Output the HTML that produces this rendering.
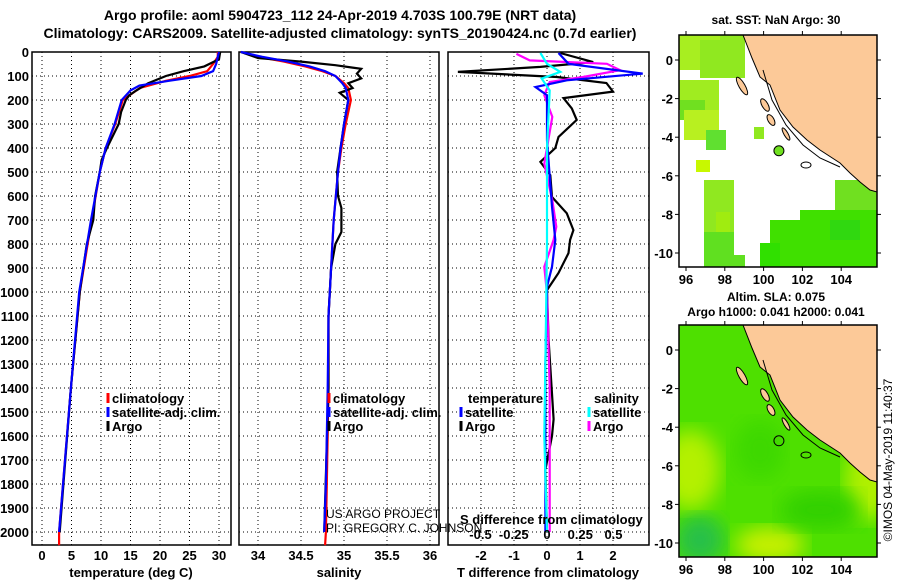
<!DOCTYPE html>
<html><head><meta charset="utf-8">
<style>
body{margin:0;background:#fff;}
svg{display:block;font-family:"Liberation Sans",sans-serif;}
.b{font-weight:bold;font-size:13px;}
</style></head>
<body>
<svg id="c" width="900" height="580" viewBox="0 0 900 580" xmlns="http://www.w3.org/2000/svg">
<text x="340" y="20" text-anchor="middle" class="b" style="font-size:14px">Argo profile: aoml 5904723_112 24-Apr-2019 4.703S 100.79E (NRT data)</text>
<text x="340" y="38" text-anchor="middle" class="b" style="font-size:14px">Climatology: CARS2009. Satellite-adjusted climatology: synTS_20190424.nc (0.7d earlier)</text>
<g id="p1"></g>
<g id="p2"></g>
<g id="p3"></g>
<g id="m1"></g>
<g id="m2"></g>
<text transform="translate(892,460) rotate(-90)" text-anchor="middle" style="font-size:12px">©IMOS 04-May-2019 11:40:37</text>
</svg>
<script>
// ---- data ----
const depthTicks=[0,100,200,300,400,500,600,700,800,900,1000,1100,1200,1300,1400,1500,1600,1700,1800,1900,2000];
const tempTicks=[0,5,10,15,20,25,30];
const salTicks=[34,34.5,35,35.5,36];
const tdiffTicks=[-2,-1,0,1,2];
const sdiffTicks=[-0.5,-0.25,0,0.25,0.5];
const tClimD=[0,20,50,80,100,120,150,200,300,400,500,700,1000,1400,2000,2055];
const tClimV=[29.8,29.8,29,28,25,21,16.6,13.7,12.4,10.8,9.8,8.4,6.4,4.9,2.9,2.9];
const tArgoD=[0,30,60,80,100,130,160,180,200,250,300,350,400,450,500,600,700,800,900,1000,1400,2000];
const tArgoV=[30.2,30,27.5,24,21,18,16,14.8,14.2,13.4,13,12,11,10.1,9.8,9,8.7,7.6,7,6.4,4.9,3];
const tSatD=[0,50,80,100,120,140,160,200,300,400,500,700,1000,1400,2000];
const tSatV=[30,29.5,29,27,21.5,16.5,15,13.5,12.3,10.8,9.8,8.3,6.3,4.9,2.9];
const sClimD=[0,20,40,60,80,100,130,150,200,300,400,500,700,900,1100,1400,1800,2000,2055];
const sClimV=[33.8,34.0,34.3,34.55,34.75,34.9,35.0,35.05,35.08,35.02,34.97,34.93,34.88,34.85,34.82,34.82,34.8,34.79,34.78];
const sArgoD=[0,25,40,55,65,70,90,110,130,150,170,200,300,500,600,650,750,800,900,1100,1400,2000];
const sArgoV=[33.8,34.0,34.5,34.9,35.1,35.2,35.15,35.2,35.05,35.1,34.95,35.05,35.0,34.92,34.93,34.97,34.97,34.9,34.85,34.82,34.82,34.77];
const sSatD=[0,20,40,60,80,100,130,150,200,300,400,500,700,900,1100,1400,1800,2000];
const sSatV=[33.8,34.05,34.35,34.6,34.78,34.9,34.98,35.02,35.05,35.0,34.96,34.93,34.88,34.85,34.82,34.81,34.79,34.77];
const dTArgoD=[4,42,62,83,104,129,165,192,235,283,354,400,458,513,604,672,742,783,838,921,992,1200,1530,1600,1740,2000];
const dTArgoV=[0.4,1.4,-0.2,-2.7,0.3,1.8,2.0,0.5,0.75,0.9,0.35,0.25,-0.2,0.1,0.15,0.6,0.8,0.7,0.65,0.35,0,0.05,0.2,0.15,-0.05,0];
const dTSatD=[4,49,90,118,146,180,368,645,783,895,978,1300,1600,2000];
const dTSatV=[0.35,0.65,2.9,0.6,-0.35,0,0,0.15,0.25,0.15,0,-0.05,-0.05,-0.05];
const dSArgoD=[8,35,49,76,104,125,180,270,465,617,728,783,895,1006,1400,2000];
const dSArgoV=[-0.23,-0.13,0.45,0.55,0.27,0.02,-0.02,0.04,-0.02,0.04,0.07,0.05,-0.02,0,0.02,0.02];
const dSSatD=[4,49,83,111,160,400,800,1200,1600,2000];
const dSSatV=[-0.05,0,0.1,-0.04,0.02,0,0,-0.01,-0.02,0];
const lonTicks=[96,98,100,102,104];
const latTicks=[0,-2,-4,-6,-8,-10];
const argoLon=100.79, argoLat=-4.703;

// ---- helpers ----
const NS='http://www.w3.org/2000/svg';
function mk(parent,tag,attrs,txt){const e=document.createElementNS(NS,tag);for(const k in attrs)e.setAttribute(k,attrs[k]);if(txt!==undefined)e.textContent=txt;parent.appendChild(e);return e;}
const topY=52,botY=545;
const yD=d=>topY+d*0.24;
function panel(g,x0,x1,xs,xt,xlabels,showY){
  const r=mk(g,'rect',{x:x0,y:topY,width:x1-x0,height:botY-topY,fill:'none',stroke:'#000','stroke-width':1.5});
  
  
  depthTicks.forEach(d=>{
    const l=mk(g,'line',{x1:x0,x2:x1,y1:yD(d),y2:yD(d),stroke:'#000','stroke-dasharray':'1,3'});
    
    
    if(showY){const t=mk(g,'text',{x:x0-3,y:yD(d)+5,'text-anchor':'end',class:'b'},d);
      
      }
  });
  xt.forEach(v=>{
    const l=mk(g,'line',{x1:xs(v),x2:xs(v),y1:topY,y2:botY,stroke:'#000','stroke-dasharray':'1,3'});
    
    
    if(xlabels){const t=mk(g,'text',{x:xs(v),y:560,'text-anchor':'middle',class:'b'},v);
      
      }
  });
}
function line(g,xs,D,V,col,name){
  const p=D.map((d,i)=>xs(V[i]).toFixed(1)+','+yD(d).toFixed(1)).join(' ');
  const e=mk(g,'polyline',{points:p,fill:'none',stroke:col,'stroke-width':2.2});
  
  
}
function leg(g,x,y,col,label){
  const l=mk(g,'line',{x1:x,x2:x,y1:y-10,y2:y,stroke:col,'stroke-width':3});
  
  
  const t=mk(g,'text',{x:x+4,y:y,class:'b'},label);
  
  
}

// ---- panel 1 temperature ----
const g1=document.getElementById('p1');
const xT=v=>42+v*5.9;
panel(g1,32,231,xT,tempTicks,true,true);
line(g1,xT,tClimD,tClimV,'#f00','temp-climatology-line');
line(g1,xT,tArgoD,tArgoV,'#000','temp-argo-line');
line(g1,xT,tSatD,tSatV,'#00f','temp-satellite-line');
leg(g1,108,403,'#f00','climatology');
leg(g1,108,417,'#00f','satellite-adj. clim.');
leg(g1,108,431,'#000','Argo');
(function(){const t=mk(g1,'text',{x:131,y:577,'text-anchor':'middle',class:'b'},'temperature (deg C)');

})();

// ---- panel 2 salinity ----
const g2=document.getElementById('p2');
const xS=v=>258+(v-34)*86;
panel(g2,239,439,xS,salTicks,true,false);
line(g2,xS,sClimD,sClimV,'#f00','sal-climatology-line');
line(g2,xS,sArgoD,sArgoV,'#000','sal-argo-line');
line(g2,xS,sSatD,sSatV,'#00f','sal-satellite-line');
leg(g2,329,403,'#f00','climatology');
leg(g2,329,417,'#00f','satellite-adj. clim.');
leg(g2,329,431,'#000','Argo');
(function(){
const t=mk(g2,'text',{x:339,y:577,'text-anchor':'middle',class:'b'},'salinity');


const a=mk(g2,'text',{x:326,y:518,style:'font-size:12px'},'US ARGO PROJECT');


const b=mk(g2,'text',{x:326,y:532,style:'font-size:12px'},'PI: GREGORY C. JOHNSON');


})();

// ---- panel 3 differences ----
const g3=document.getElementById('p3');
const xDT=v=>547+v*33;
const xDS=v=>547+v*133;
panel(g3,448,649,xDT,tdiffTicks,true,false);
line(g3,xDT,dTArgoD,dTArgoV,'#000','tdiff-argo-line');
line(g3,xDS,dSArgoD,dSArgoV,'#f0f','sdiff-argo-line');
line(g3,xDT,dTSatD,dTSatV,'#00f','tdiff-satellite-line');
line(g3,xDS,dSSatD,dSSatV,'#0ff','sdiff-satellite-line');
(function(){
const t=mk(g3,'text',{x:468,y:403,class:'b'},'temperature');


const s=mk(g3,'text',{x:594,y:403,class:'b'},'salinity');


})();
leg(g3,461,417,'#00f','satellite');
leg(g3,461,431,'#000','Argo');
leg(g3,589,417,'#0ff','satellite');
leg(g3,589,431,'#f0f','Argo');
(function(){
const t=mk(g3,'text',{x:460,y:524,class:'b'},'S difference from climatology');


sdiffTicks.forEach(v=>{const e=mk(g3,'text',{x:xDS(v),y:539,'text-anchor':'middle',class:'b'},v);

});
const x=mk(g3,'text',{x:548,y:577,'text-anchor':'middle',class:'b'},'T difference from climatology');


})();

// ---- maps ----
function drawMap(g,yOff,kind){
  const X=lon=>686+(lon-96)*19.4, Y=lat=>60+yOff-lat*19.3;
  const x0=679,x1=877,y0=35+yOff,y1=267+yOff;
  const cp=mk(g,'clipPath',{id:'cl'+kind});mk(cp,'rect',{x:x0,y:y0,width:x1-x0,height:y1-y0});
  const inner=mk(g,'g',{'clip-path':'url(#cl'+kind+')'});
  if(kind==='sla'){
    mk(inner,'rect',{x:x0,y:y0,width:x1-x0,height:y1-y0,fill:'#4ee000'});
    const f=mk(g,'filter',{id:'bl'});mk(f,'feGaussianBlur',{stdDeviation:10});
    const blobs=[[690,470,30,40,'#b4f000'],[770,545,35,18,'#c8f000'],[700,540,25,25,'#28c048'],[870,480,25,40,'#b0f000'],[760,450,25,30,'#3cd800'],[820,510,40,20,'#30d000']];
    blobs.forEach(b=>{const e=mk(inner,'ellipse',{cx:b[0],cy:b[1],rx:b[2],ry:b[3],fill:b[4],filter:'url(#bl)'});
      
      });
  } else {
    mk(inner,'rect',{x:x0,y:y0,width:x1-x0,height:y1-y0,fill:'#fff'});
    const sq=[[679,35,50,35,'#a8ee20'],[700,40,45,38,'#90e820'],[720,35,25,40,'#90e820'],[679,80,40,30,'#a0ec20'],[680,100,25,20,'#70e020'],[684,110,35,30,'#b8f020'],[706,130,20,20,'#60e030'],[696,160,14,12,'#c8f800'],[754,127,10,12,'#90e820'],[704,180,30,55,'#90e820'],[716,212,14,40,'#a0ec10'],[704,232,30,35,'#60e020'],[715,255,30,12,'#60e020'],[770,220,35,47,'#40e000'],[800,210,77,57,'#40e000'],[835,180,42,30,'#70e020'],[830,220,30,20,'#30d810'],[868,115,9,12,'#e0e000'],[760,243,20,24,'#30e000']];
    sq.forEach(s=>{const e=mk(inner,'rect',{x:s[0],y:s[1],width:s[2],height:s[3],fill:s[4]});
      
      });
  }
  const land=[[743,35],[752,58],[760,77],[770,85],[780,110],[793,127],[807,140],[820,150],[840,163],[850,173],[860,182],[870,190],[877,192],[877,35]];
  const lp=mk(inner,'polygon',{points:land.map(p=>p[0]+','+(p[1]+yOff)).join(' '),fill:'#fcc998',stroke:'#000','stroke-width':1});
  
  
  const isl=[[742,86,3,10],[765,105,3,7],[771,120,3,6],[786,134,2,7]];
  isl.forEach(i=>mk(inner,'ellipse',{cx:i[0],cy:i[1]+yOff,rx:i[2],ry:i[3],fill:'#fcc998',stroke:'#000',transform:'rotate(-30 '+i[0]+' '+(i[1]+yOff)+')'}));
  mk(inner,'polyline',{points:[[763,70],[772,100],[786,125],[803,145],[820,158],[840,167]].map(p=>p[0]+','+(p[1]+yOff)).join(' '),fill:'none',stroke:'#000','stroke-width':1});
  mk(inner,'ellipse',{cx:806,cy:165+yOff,rx:5,ry:3,fill:'none',stroke:'#000'});
  const m=mk(inner,'circle',{cx:X(argoLon),cy:Y(argoLat),r:5,fill:kind==='sst'?'#70e020':'none',stroke:'#000'});
  
  
  const fr=mk(g,'rect',{x:x0,y:y0,width:x1-x0,height:y1-y0,fill:'none',stroke:'#000','stroke-width':1.5});
  
  
  lonTicks.forEach(v=>{mk(g,'line',{x1:X(v),x2:X(v),y1:y1,y2:y1+4,stroke:'#000'});mk(g,'line',{x1:X(v),x2:X(v),y1:y0,y2:y0-4,stroke:'#000'});
    const t=mk(g,'text',{x:X(v),y:y1+17,'text-anchor':'middle',class:'b'},v);
    
    });
  latTicks.forEach(v=>{mk(g,'line',{x1:x0-4,x2:x0,y1:Y(v),y2:Y(v),stroke:'#000'});mk(g,'line',{x1:x1,x2:x1+4,y1:Y(v),y2:Y(v),stroke:'#000'});
    const t=mk(g,'text',{x:x0-6,y:Y(v)+5,'text-anchor':'end',class:'b'},v);
    
    });
}
const m1=document.getElementById('m1');drawMap(m1,0,'sst');
const m2=document.getElementById('m2');drawMap(m2,290,'sla');
(function(){
const a=mk(m1,'text',{x:776,y:24,'text-anchor':'middle',class:'b',style:'font-size:12px'},'sat. SST: NaN Argo: 30');


const b=mk(m2,'text',{x:776,y:301,'text-anchor':'middle',class:'b',style:'font-size:12px'},'Altim. SLA: 0.075');


const c=mk(m2,'text',{x:776,y:316,'text-anchor':'middle',class:'b',style:'font-size:12px'},'Argo h1000: 0.041 h2000: 0.041');


})();
</script>
</body></html>
